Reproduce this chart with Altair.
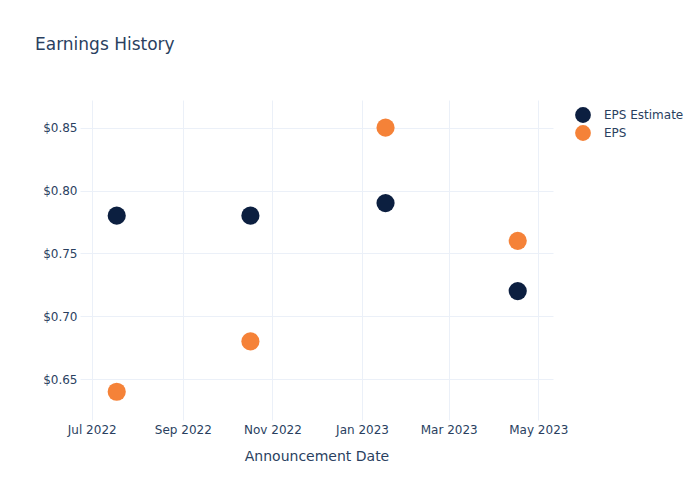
import altair as alt
import pandas as pd

dates = ["2022-07-18", "2022-10-17", "2023-01-17", "2023-04-17"]
eps_estimate = [0.78, 0.78, 0.79, 0.72]
eps_actual = [0.64, 0.68, 0.85, 0.76]
series_names = ["EPS Estimate", "EPS"]
series_colors = ["#0c1f40", "#f58238"]

rows = []
for d, e, a in zip(dates, eps_estimate, eps_actual):
    rows.append({"date": d, "value": e, "series": series_names[0]})
    rows.append({"date": d, "value": a, "series": series_names[1]})
df = pd.DataFrame(rows)

FONT = "DejaVu Sans"
TXT = "#2a3f5f"
GRID = "#EBF0F8"

chart = alt.Chart(df).mark_circle(size=330, opacity=1).encode(
    x=alt.X("date:T",
            title="Announcement Date",
            scale=alt.Scale(domain=["2022-06-23", "2023-05-11"], nice=False),
            axis=alt.Axis(format="%b %Y", tickCount={"interval": "month", "step": 2},
                          domain=False, ticks=False, gridColor=GRID, labelPadding=4,
                          labelColor=TXT, labelFontSize=12, labelFont=FONT,
                          titleFont=FONT, titleFontSize=14, titleColor=TXT,
                          titleFontWeight="normal", titlePadding=14, labelFlush=False)),
    y=alt.Y("value:Q",
            title=None,
            scale=alt.Scale(domain=[0.6175, 0.872], nice=False, zero=False),
            axis=alt.Axis(format="$.2f", values=[0.65, 0.70, 0.75, 0.80, 0.85],
                          domain=False, ticks=False, gridColor=GRID, labelPadding=3,
                          labelColor=TXT, labelFontSize=12, labelFont=FONT)),
    color=alt.Color("series:N",
                    scale=alt.Scale(domain=series_names, range=series_colors),
                    legend=alt.Legend(title=None, orient="none", legendX=494, legendY=6,
                                      symbolType="circle", symbolSize=250, symbolOpacity=1,
                                      labelFont=FONT, labelFontSize=12, labelColor=TXT,
                                      rowPadding=1, labelOffset=12)),
    order=alt.Order("series:N", sort="descending"),
).properties(
    width=473,
    height=320,
    autosize=alt.AutoSizeParams(type="none"),
    padding={"left": 80, "top": 100, "right": 147, "bottom": 80},
    title=alt.TitleParams("Earnings History", anchor="start", frame="group", dx=-45,
                          offset=33, baseline="alphabetic", font=FONT, fontSize=17,
                          fontWeight="normal", color=TXT),
).configure(background="white").configure_view(strokeWidth=0, stroke="transparent")

chart.save("out.html", embed_options={"renderer": "svg", "actions": False})
